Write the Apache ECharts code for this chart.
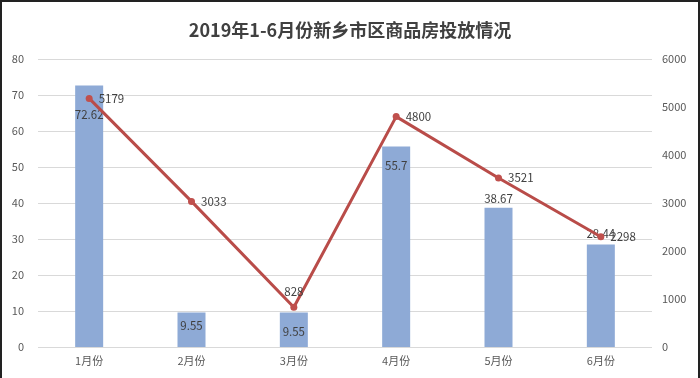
<!DOCTYPE html>
<html>
<head>
<meta charset="utf-8">
<script src="https://cdn.jsdelivr.net/npm/echarts@6/dist/echarts.min.js"></script>
<style>
  html, body { margin: 0; padding: 0; background: #fff; }
  #myChart { width: 700px; height: 378px; box-sizing: border-box; border: 2px solid #222; border-bottom: none; }
</style>
</head>
<body>
<div id="myChart"></div>
<script>
// 数据
const months = ['1月份', '2月份', '3月份', '4月份', '5月份', '6月份']
const areaValues = [72.62, 9.55, 9.55, 55.7, 38.67, 28.44]
const unitValues = [5179, 3033, 828, 4800, 3521, 2298]
const leftTicks = [0, 80, 10]
const rightTicks = [0, 6000, 1000]

// 每根柱子的标签位置
const barLabelPos = ['insideTop', 'inside', 'insideTop', 'insideTop', 'top', 'top']
const barLabelOffset = [[0, 20], [0, -4], [0, 10], [0, 10], [0, 0], [0, -2]]
const lineLabelPos = ['right', 'right', 'top', 'right', 'right', 'right']

const chart = echarts.init(document.getElementById('myChart'))
const textColor = '#404040'
const font = '"Noto Sans CJK SC", "Noto Sans", sans-serif'

chart.setOption({
  animation: false,
  textStyle: { fontFamily: font },
  title: {
    text: '2019年1-6月份新乡市区商品房投放情况',
    left: 'center',
    top: 14,
    textStyle: { fontSize: 18, fontWeight: 'bold', color: '#404040', fontFamily: font },
  },
  grid: { left: 36, right: 46, top: 57, bottom: 31 },
  xAxis: {
    type: 'category',
    data: months,
    axisLine: { show: false },
    axisTick: { show: false },
    axisLabel: { color: '#595959', fontSize: 11, margin: 8 },
  },
  yAxis: [
    {
      type: 'value',
      min: leftTicks[0],
      max: leftTicks[1],
      interval: leftTicks[2],
      axisLine: { show: false },
      axisTick: { show: false },
      axisLabel: { color: '#595959', fontSize: 11, margin: 14 },
      splitLine: { lineStyle: { color: '#d9d9d9' } },
    },
    {
      type: 'value',
      min: rightTicks[0],
      max: rightTicks[1],
      interval: rightTicks[2],
      axisLine: { show: false },
      axisTick: { show: false },
      axisLabel: { color: '#595959', fontSize: 11, margin: 10, formatter: (v) => String(v) },
      splitLine: { show: false },
    },
  ],
  series: [
    {
      name: '面积',
      type: 'bar',
      barWidth: 28,
      data: areaValues.map((v, i) => ({
        value: v,
        label: { position: barLabelPos[i], offset: barLabelOffset[i] },
      })),
      itemStyle: { color: '#8eaad6' },
      label: { show: true, color: textColor, fontSize: 11.5, distance: 3 },
    },
    {
      name: '套数',
      type: 'line',
      yAxisIndex: 1,
      data: unitValues.map((v, i) => ({
        value: v,
        label: { position: lineLabelPos[i] },
      })),
      symbol: 'circle',
      symbolSize: 7,
      lineStyle: { color: '#b94c49', width: 3 },
      itemStyle: { color: '#c0504d' },
      label: { show: true, color: textColor, fontSize: 11.5, distance: 6 },
      z: 3,
    },
  ],
})
</script>
</body>
</html>
